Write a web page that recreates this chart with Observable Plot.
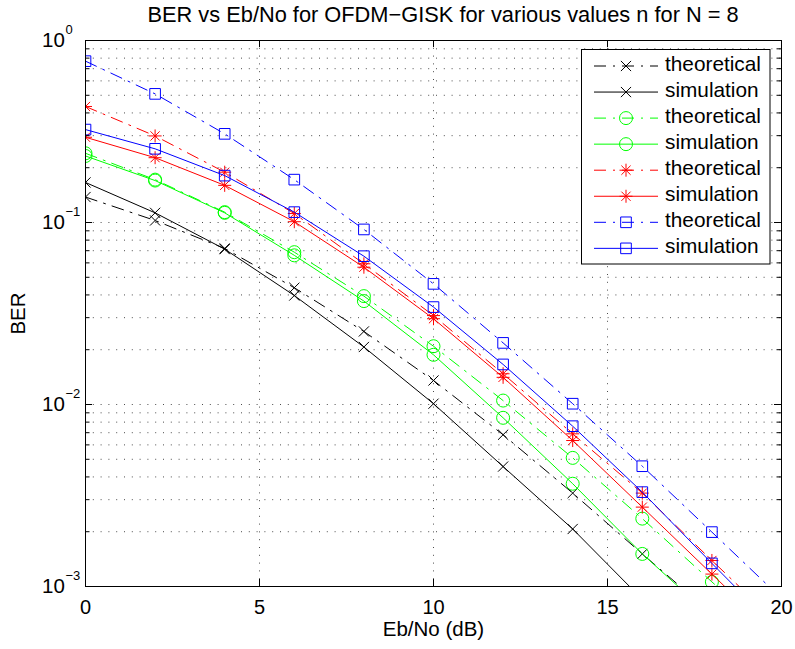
<!DOCTYPE html>
<html><head><meta charset="utf-8">
<script src="https://cdn.jsdelivr.net/npm/d3@7"></script>
<script src="https://cdn.jsdelivr.net/npm/@observablehq/plot@0.6"></script>
<style>
body{margin:0;background:#fff;}
#wrap{position:relative;width:795px;height:649px;font-family:"Liberation Sans",Arial,Helvetica,sans-serif;}
</style></head><body><div id="wrap"></div>
<script>
// ---- data ----
const snr = [0, 2, 4, 6, 8, 10, 12, 14, 16, 18, 20];
const blackTheo = [0.138, 0.1026, 0.072, 0.0438, 0.0252, 0.01355, 0.00682, 0.00326, 0.00151, 0.00071, 0.00033];
const blackSim  = [0.166, 0.113, 0.0714, 0.0397, 0.0207, 0.0101, 0.00456, 0.00207, 0.00085, 0.00032, 0.000117];
const greenTheo = [0.24, 0.172, 0.114, 0.0687, 0.0394, 0.0209, 0.01051, 0.00509, 0.00236, 0.00106, 0.00048];
const greenSim  = [0.232, 0.17, 0.113, 0.066, 0.037, 0.01875, 0.00845, 0.00367, 0.00151, 0.00068, 0.0003];
const redTheo   = [0.434, 0.299, 0.189, 0.112, 0.0593, 0.0308, 0.01475, 0.0069, 0.00326, 0.00139, 0.0006];
const redSim    = [0.294, 0.227, 0.160, 0.101, 0.0568, 0.0296, 0.0141, 0.00634, 0.00273, 0.00117, 0.0005];
const blueTheo  = [0.77, 0.509, 0.307, 0.172, 0.0916, 0.046, 0.0218, 0.0101, 0.00458, 0.00199, 0.00086];
const blueSim   = [0.324, 0.254, 0.181, 0.114, 0.0653, 0.0343, 0.0166, 0.0076, 0.0033, 0.00134, 0.00055];

const seriesNames = ["theoretical", "simulation", "theoretical", "simulation", "theoretical", "simulation", "theoretical", "simulation"];
const xTicks = [0, 5, 10, 15, 20];
const yMajor = [1e-3, 1e-2, 1e-1, 1];
const yExpLabels = ["\u22123", "\u22122", "\u22121", "0"];
const yMinor = [1e-3, 1e-2, 1e-1].flatMap(d => [2,3,4,5,6,7,8,9].map(m => m * d));
const titleText = "BER vs Eb/No for OFDM\u2212GISK for various values n for N = 8";
const xLabel = "Eb/No (dB)";
const yLabel = "BER";

// ---- styling ----
const dashDot = "12,7,2,7";
const star8 = {
  draw(ctx, size) {
    const r = Math.sqrt(size / Math.PI), d = r * Math.SQRT1_2;
    ctx.moveTo(0, -r); ctx.lineTo(0, r);
    ctx.moveTo(-r, 0); ctx.lineTo(r, 0);
    ctx.moveTo(-d, -d); ctx.lineTo(d, d);
    ctx.moveTo(-d, d); ctx.lineTo(d, -d);
  }
};
const styles = [
  {values: blackTheo, color: "#000000", symbol: d3.symbolTimes, r: 4.7, dash: dashDot},
  {values: blackSim,  color: "#000000", symbol: d3.symbolTimes, r: 4.7, dash: null},
  {values: greenTheo, color: "#00ff00", symbol: d3.symbolCircle, r: 6.5, dash: dashDot},
  {values: greenSim,  color: "#00ff00", symbol: d3.symbolCircle, r: 6.5, dash: null},
  {values: redTheo,   color: "#ff0000", symbol: star8, r: 6.5, dash: dashDot},
  {values: redSim,    color: "#ff0000", symbol: star8, r: 6.5, dash: null},
  {values: blueTheo,  color: "#0000ff", symbol: d3.symbolSquare, r: 6.0, dash: dashDot},
  {values: blueSim,   color: "#0000ff", symbol: d3.symbolSquare, r: 6.0, dash: null}
];

const W = 795, H = 649, mL = 85, mR = 14, mT = 40, mB = 63;
const fw = W - mL - mR, fh = H - mT - mB;
const font = "'Liberation Sans', Arial, Helvetica, sans-serif";
const gridStyle = {stroke: "#000", strokeOpacity: 0.7, strokeDasharray: "1,6.8", strokeWidth: 1};

const dataMarks = styles.flatMap((s, k) => {
  const rows = snr.map((x, i) => ({x, y: s.values[i]}));
  return [
    Plot.line(rows, {x: "x", y: "y", stroke: s.color, strokeWidth: 1, strokeDasharray: s.dash, clip: true}),
    Plot.dot(rows, {x: "x", y: "y", symbol: s.symbol, r: s.r, stroke: s.color, fill: "none", strokeWidth: 1, clip: true})
  ];
});

const chart = Plot.plot({
  width: W, height: H,
  marginLeft: mL, marginRight: mR, marginTop: mT, marginBottom: mB,
  x: {domain: [0, 20], axis: null},
  y: {type: "log", domain: [1e-3, 1], axis: null},
  style: {fontFamily: font, background: "#fff", color: "#000"},
  marks: [
    Plot.ruleY(yMinor, {y: d => d, ...gridStyle}),
    Plot.ruleY(yMajor, {y: d => d, ...gridStyle}),
    Plot.ruleX(xTicks, {x: d => d, ...gridStyle}),
    ...dataMarks,
    // ticks (inward)
    Plot.tickX(xTicks, {x: d => d, insetTop: fh - 7, stroke: "#000"}),
    Plot.tickX(xTicks, {x: d => d, insetBottom: fh - 7, stroke: "#000"}),
    Plot.tickY(yMajor, {y: d => d, insetRight: fw - 7, stroke: "#000"}),
    Plot.tickY(yMajor, {y: d => d, insetLeft: fw - 7, stroke: "#000"}),
    Plot.tickY(yMinor, {y: d => d, insetRight: fw - 4.5, stroke: "#000"}),
    Plot.tickY(yMinor, {y: d => d, insetLeft: fw - 4.5, stroke: "#000"}),
    Plot.frame({stroke: "#000", strokeWidth: 1}),
    // tick labels
    Plot.text(xTicks, {x: d => d, text: d => String(d), frameAnchor: "bottom", dy: 27, lineAnchor: "bottom", textAnchor: "middle", fontSize: 20}),
    Plot.text(yMajor, {y: d => d, text: () => "10", frameAnchor: "left", dx: -43.5, dy: 6, lineAnchor: "bottom", textAnchor: "start", fontSize: 20.5}),
    Plot.text(yMajor, {y: d => d, text: yExpLabels, frameAnchor: "left", dx: -20, dy: -7, lineAnchor: "bottom", textAnchor: "start", fontSize: 13}),
    // axis labels and title
    Plot.text([xLabel], {text: d => d, frameAnchor: "bottom", dy: 49, lineAnchor: "bottom", textAnchor: "middle", fontSize: 20.5}),
    Plot.text([yLabel], {text: d => d, frameAnchor: "left", dx: -67.5, rotate: -90, lineAnchor: "middle", textAnchor: "middle", fontSize: 20.5}),
    Plot.text([titleText], {text: d => d, frameAnchor: "top-left", dx: 62, dy: -19, lineAnchor: "bottom", textAnchor: "start", fontSize: 21.8})
  ]
});

const wrap = document.getElementById("wrap");
wrap.appendChild(chart);

// ---- legend (inside the axes, top-right) ----
const leg = d3.create("svg")
  .attr("width", W).attr("height", H)
  .style("position", "absolute").style("left", "0px").style("top", "0px")
  .style("font-family", font);
const box = {x: 581.5, y: 49.5, w: 188.5, h: 214.5};
leg.append("rect").attr("x", box.x).attr("y", box.y).attr("width", box.w).attr("height", box.h)
  .attr("fill", "#fff").attr("stroke", "#000").attr("stroke-width", 1);
styles.forEach((s, i) => {
  const cy = box.y + 16.5 + i * 26.05;
  const x0 = box.x + 12.5, x1 = box.x + 76.5, xm = (x0 + x1) / 2;
  const l = leg.append("line").attr("x1", x0).attr("x2", x1).attr("y1", cy).attr("y2", cy)
    .attr("stroke", s.color).attr("stroke-width", 1);
  if (s.dash) l.attr("stroke-dasharray", s.dash);
  leg.append("path")
    .attr("d", d3.symbol(s.symbol, s.r * s.r * Math.PI)())
    .attr("transform", `translate(${xm},${cy})`)
    .attr("fill", "none").attr("stroke", s.color).attr("stroke-width", 1);
  leg.append("text").attr("x", box.x + 83.5).attr("y", cy + 4.5)
    .attr("font-size", 20.8).attr("fill", "#000").text(seriesNames[i]);
});
wrap.appendChild(leg.node());
</script>
</body></html>
